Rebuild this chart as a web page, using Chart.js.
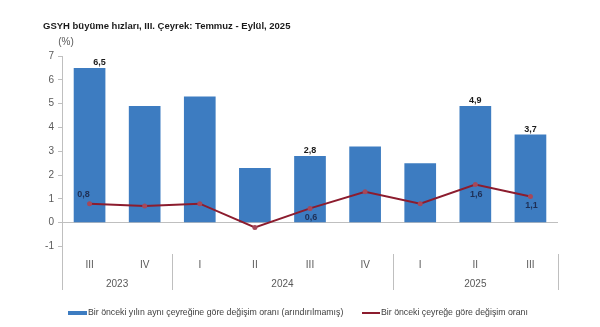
<!DOCTYPE html>
<html lang="tr">
<head>
<meta charset="utf-8">
<script src="https://cdn.jsdelivr.net/npm/chart.js@4.4.0/dist/chart.umd.min.js"></script>
<style>
  html, body { margin: 0; padding: 0; background: #fff; }
  canvas { display: block; }
</style>
</head>
<body>
<canvas id="grafikGsyh" width="600" height="327"></canvas>
<script>
// Çeyrek etiketleri ve yıllar (yıl grupları: kaç çeyrek içerdiği)
const ceyrekler = ['III', 'IV', 'I', 'II', 'III', 'IV', 'I', 'II', 'III'];
const yillar = ['2023', '2024', '2025'];
const yilCeyrekSayisi = [2, 4, 3];

// Bir önceki yılın aynı çeyreğine göre değişim (arındırılmamış)
const yillikDegisim = [6.5, 4.9, 5.3, 2.3, 2.8, 3.2, 2.5, 4.9, 3.7];
// Bir önceki çeyreğe göre değişim
const ceyreklikDegisim = [0.8, 0.7, 0.8, -0.2, 0.6, 1.3, 0.8, 1.6, 1.1];

// Üzerine değer yazılan noktalar
const etiketliIndeksler = [0, 4, 7, 8];

const baslik = 'GSYH büyüme hızları, III. Çeyrek: Temmuz - Eylül, 2025';
const birim = '(%)';
const lejant = [
  'Bir önceki yılın aynı çeyreğine göre değişim oranı (arındırılmamış)',
  'Bir önceki çeyreğe göre değişim oranı'
];

const MAVI = '#3d7cc1';
const BORDO = '#8c1c2e';
const EKSEN = '#bfbfbf';
const YAZI = '#595959';
const AILE = '"Liberation Sans", Arial, sans-serif';

function virgullu(v) {
  return v.toFixed(1).replace('.', ',');
}

// Başlık, yıl grupları, ayraçlar, değer etiketleri ve lejant
const ekler = {
  id: 'ekler',
  afterDraw(chart) {
    const ctx = chart.ctx;
    const x = chart.scales.x;
    const alan = chart.chartArea;
    ctx.save();

    // başlık ve birim
    ctx.fillStyle = '#1a1a1a';
    ctx.font = 'bold 9.5px ' + AILE;
    ctx.textAlign = 'left';
    ctx.textBaseline = 'alphabetic';
    ctx.fillText(baslik, 43, 29);
    ctx.fillStyle = YAZI;
    ctx.font = '10px ' + AILE;
    ctx.textAlign = 'center';
    ctx.textBaseline = 'middle';
    ctx.fillText(birim, 66, 42);

    // sol eksenin aşağı uzantısı ve yıl ayraçları
    const adim = x.getPixelForValue(1) - x.getPixelForValue(0);
    ctx.strokeStyle = EKSEN;
    ctx.lineWidth = 1;
    ctx.beginPath();
    ctx.moveTo(Math.round(alan.left) + 0.5, alan.bottom);
    ctx.lineTo(Math.round(alan.left) + 0.5, 290);
    ctx.stroke();

    let bas = 0;
    ctx.fillStyle = YAZI;
    ctx.font = '10px ' + AILE;
    yillar.forEach((yil, i) => {
      const son = bas + yilCeyrekSayisi[i] - 1;
      const sol = x.getPixelForValue(bas) - adim / 2;
      const sag = x.getPixelForValue(son) + adim / 2;
      ctx.beginPath();
      ctx.moveTo(Math.round(sag) + 0.5, 254);
      ctx.lineTo(Math.round(sag) + 0.5, 290);
      ctx.stroke();
      ctx.fillText(yil, (sol + sag) / 2, 284);
      bas = son + 1;
    });

    // değer etiketleri
    ctx.font = 'bold 9px ' + AILE;
    const sutunlar = chart.getDatasetMeta(1).data;
    const noktalar = chart.getDatasetMeta(0).data;
    etiketliIndeksler.forEach(i => {
      const s = sutunlar[i];
      ctx.fillStyle = '#1a1a1a';
      ctx.textBaseline = 'bottom';
      ctx.fillText(virgullu(yillikDegisim[i]), s.x + (i === 0 ? 10 : 0), s.y - 1);

      const n = noktalar[i];
      ctx.fillStyle = '#1f2f55';
      if (i === 0) {
        ctx.textBaseline = 'bottom';
        ctx.fillText(virgullu(ceyreklikDegisim[i]), n.x - 6, n.y - 5);
      } else {
        ctx.textBaseline = 'top';
        ctx.fillText(virgullu(ceyreklikDegisim[i]), n.x + 1, n.y + 5);
      }
    });

    // lejant
    ctx.font = '8.75px ' + AILE;
    ctx.fillStyle = MAVI;
    ctx.fillRect(68, 311, 19, 4);
    ctx.fillStyle = '#404040';
    ctx.textAlign = 'left';
    ctx.textBaseline = 'middle';
    ctx.fillText(lejant[0], 88, 313);
    ctx.strokeStyle = BORDO;
    ctx.lineWidth = 2;
    ctx.beginPath();
    ctx.moveTo(362, 313);
    ctx.lineTo(380, 313);
    ctx.stroke();
    ctx.fillText(lejant[1], 381, 313);

    ctx.restore();
  }
};

new Chart(document.getElementById('grafikGsyh').getContext('2d'), {
  data: {
    labels: ceyrekler,
    datasets: [
      {
        type: 'line',
        label: lejant[1],
        data: ceyreklikDegisim,
        borderColor: BORDO,
        borderWidth: 2,
        tension: 0,
        pointRadius: 2.5,
        pointBackgroundColor: '#a5485a',
        pointBorderWidth: 0,
        order: 0
      },
      {
        type: 'bar',
        label: lejant[0],
        data: yillikDegisim,
        backgroundColor: MAVI,
        barPercentage: 0.575,
        categoryPercentage: 1,
        order: 1
      }
    ]
  },
  options: {
    responsive: false,
    animation: false,
    devicePixelRatio: 1,
    layout: { padding: { left: 0, right: 42, top: 56, bottom: 36.5 } },
    plugins: {
      legend: { display: false },
      tooltip: { enabled: false }
    },
    scales: {
      x: {
        offset: true,
        grid: { display: false, drawTicks: false },
        border: { display: false },
        ticks: {
          color: YAZI,
          padding: 13,
          font: { size: 10, family: AILE }
        },
        afterFit(s) { s.height = 44; }
      },
      y: {
        min: -1,
        max: 7,
        ticks: {
          stepSize: 1,
          color: YAZI,
          padding: 4,
          font: { size: 10, family: AILE }
        },
        grid: {
          drawOnChartArea: true,
          color: c => (c.tick && c.tick.value === 0 ? EKSEN : 'rgba(0,0,0,0)'),
          tickColor: EKSEN,
          tickLength: 4
        },
        border: { display: true, color: EKSEN },
        afterFit(s) { s.width = 62; }
      }
    }
  },
  plugins: [ekler]
});
</script>
</body>
</html>
